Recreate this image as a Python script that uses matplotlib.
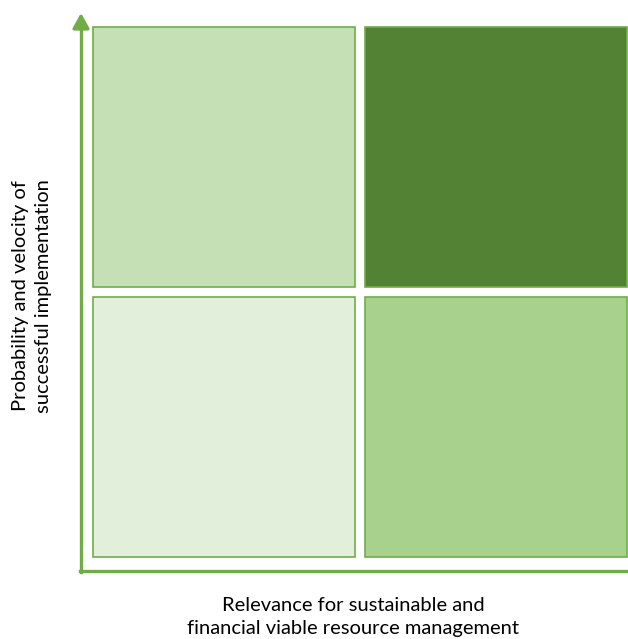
import matplotlib
matplotlib.use('Agg')
import matplotlib.pyplot as plt
from matplotlib.patches import Rectangle

# quadrant grid: (column, row) with row 0 at the bottom
cols = [0, 1, 0, 1]
rows = [1, 1, 0, 0]
fills = ['#C5E0B4', '#548235', '#E2EFDA', '#A9D18E']
edge = '#70AD47'

x_label = 'Relevance for sustainable and\nfinancial viable resource management'
y_label = 'Probability and velocity of\nsuccessful implementation'

W, H = 628, 639
fig = plt.figure(figsize=(W / 100, H / 100), dpi=100)
plt.rcParams['font.family'] = ['Lato', 'DejaVu Sans']

# axes spanning the four boxes
ax = fig.add_axes([88 / W, (H - 562) / H, 544 / W, 540 / H])
ax.set_xlim(0, 2)
ax.set_ylim(0, 2)
ax.axis('off')

pad = 0.018
for c, r, f in zip(cols, rows, fills):
    ax.add_patch(Rectangle((c + pad, r + pad), 1 - 2 * pad, 1 - 2 * pad,
                           facecolor=f, edgecolor=edge, linewidth=1.2,
                           clip_on=False))

# axis arrows in figure pixels
fig.add_artist(plt.Line2D([81 / W, 81 / W], [(H - 572) / H, (H - 20) / H],
                          color=edge, linewidth=2.4))
fig.add_artist(plt.Line2D([80 / W, 1.0], [(H - 571) / H, (H - 571) / H],
                          color=edge, linewidth=2.4))
ax.annotate('', xy=(81, H - 13), xycoords='figure pixels',
            xytext=(81, H - 30), textcoords='figure pixels',
            arrowprops=dict(arrowstyle='-|>,head_length=0.9,head_width=0.5',
                            color=edge, linewidth=2.4, shrinkA=0, shrinkB=0))

fig.text(353 / W, 1 - 617 / H, x_label, ha='center', va='center',
         fontsize=14.5, color='black', linespacing=1.45)
fig.text(32 / W, 1 - 296 / H, y_label, ha='center', va='center',
         rotation=90, fontsize=14.5, color='black', linespacing=1.4)

fig.savefig('out.png', dpi=100)
